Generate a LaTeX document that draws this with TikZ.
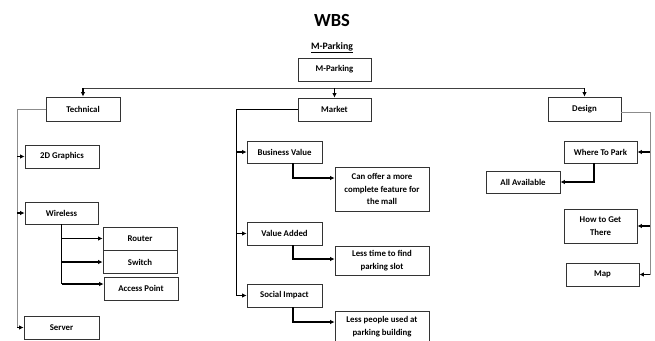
\documentclass[tikz,border=0pt]{standalone}
\usepackage{fontspec}
\setmainfont{Carlito}
\usetikzlibrary{arrows.meta}
\begin{document}
\begin{tikzpicture}[x=1pt,y=-1pt,
  box/.style={draw=black!80,line width=0.8pt,fill=white,inner sep=1pt,align=center,
    font=\bfseries\fontsize{8.8}{12.5}\selectfont},
  conn/.style={line width=1.1pt,black},
  trunk/.style={line width=1.0pt,black!45},
  arr/.style={conn,-{Latex[length=4.5pt,width=4.5pt]}}]
\clip (0,0) rectangle (655,340);
\fill[white] (0,0) rectangle (655,340);
% titles
\node[font=\bfseries\fontsize{18.5}{20}\selectfont] (title) at (332,20) {WBS};
\node[font=\bfseries\fontsize{9.8}{12}\selectfont] (sub) at (332,48) {\underline{M-Parking}};
% level 0/1
\node[box,minimum width=73pt,minimum height=23pt] (mp) at (334.5,69.5) {M-Parking};
\node[box,minimum width=74pt,minimum height=24pt] (tech) at (83,109) {Technical};
\node[box,minimum width=73pt,minimum height=23pt] (mkt) at (334.5,109.5) {Market};
\node[box,minimum width=73pt,minimum height=24pt] (des) at (584.5,109) {Design};
% technical
\node[box,minimum width=74pt,minimum height=23pt] (g2d) at (62,156.5) {2D Graphics};
\node[box,minimum width=73pt,minimum height=22pt] (wire) at (61.5,213) {Wireless};
\node[box,minimum width=74pt,minimum height=23pt] (router) at (140,238.5) {Router};
\node[box,minimum width=74pt,minimum height=23pt] (switch) at (140,262) {Switch};
\node[box,minimum width=74pt,minimum height=23pt] (ap) at (141,288.5) {Access Point};
\node[box,minimum width=75pt,minimum height=23pt] (server) at (61.5,327.5) {Server};
% market
\node[box,minimum width=75pt,minimum height=22pt] (bv) at (284.5,152) {Business Value};
\node[box,minimum width=94pt,minimum height=44pt] (can) at (382,189) {Can offer a more\\complete feature for\\the mall};
\node[box,minimum width=75pt,minimum height=23pt] (va) at (284.5,233.5) {Value Added};
\node[box,minimum width=94pt,minimum height=29pt] (lt) at (382,260.5) {Less time to find\\parking slot};
\node[box,minimum width=75pt,minimum height=23pt] (si) at (284.5,295.5) {Social Impact};
\node[box,minimum width=94pt,minimum height=31pt] (lp) at (382,326.5) {Less people used at\\parking building};
% design
\node[box,minimum width=73pt,minimum height=22pt] (wtp) at (600.5,152) {Where To Park};
\node[box,minimum width=74pt,minimum height=22pt] (allav) at (523,182) {All Available};
\node[box,minimum width=73pt,minimum height=34pt] (howto) at (600.5,226) {How to Get\\There};
\node[box,minimum width=73pt,minimum height=23pt] (map) at (602.5,274.5) {Map};
% bus
\coordinate (bus) at (0,88);
\draw[line width=1.0pt,black!75] (bus -| tech.north) -- (bus -| des.north);
\draw[arr] (bus -| tech.north) -- (tech.north);
\draw[arr] (bus -| mkt.north) -- (mkt.north);
\draw[arr] (bus -| des.north) -- (des.north);
% technical trunk
\coordinate (tt) at (17,0);
\draw[trunk] (tech.west) -| (tt |- server.west);
\draw[arr] (tt |- g2d.west) -- (g2d.west);
\draw[arr] (tt |- wire.west) -- (wire.west);
\draw[arr] (tt |- server.west) -- (server.west);
% wireless
\draw[conn] (wire.south) -- (wire.south |- 0,284);
\draw[arr] (wire.south |- router.west) -- (router.west);
\draw[arr] (wire.south |- switch.west) -- (switch.west);
\draw[arr] (wire.south |- 0,284) -- ([yshift=4.5pt]ap.west);
% market trunk
\coordinate (mt) at (236,0);
\draw[line width=1.0pt,black] (mkt.west) -| (mt |- si.west);
\draw[arr] (mt |- bv.west) -- (bv.west);
\draw[arr] (mt |- va.west) -- (va.west);
\draw[arr] (mt |- si.west) -- (si.west);
\draw[arr] ([xshift=8.5pt]bv.south) |- ([yshift=11pt]can.west);
\draw[arr] ([xshift=8.5pt]va.south) |- ([yshift=1.5pt]lt.west);
\draw[arr] ([xshift=8.5pt]si.south) |- ([yshift=4.5pt]lp.west);
% design trunk
\coordinate (dt) at (650,0);
\draw[trunk] ([yshift=-3pt]des.east) -| (dt |- map.east);
\draw[arr] (dt |- wtp.east) -- (wtp.east);
\draw[arr] (dt |- howto.east) -- (howto.east);
\draw[arr] (dt |- map.east) -- (map.east);
\draw[arr,line width=1.6pt] ([xshift=-6.5pt]wtp.south) |- (allav.east);
\end{tikzpicture}
\end{document}
